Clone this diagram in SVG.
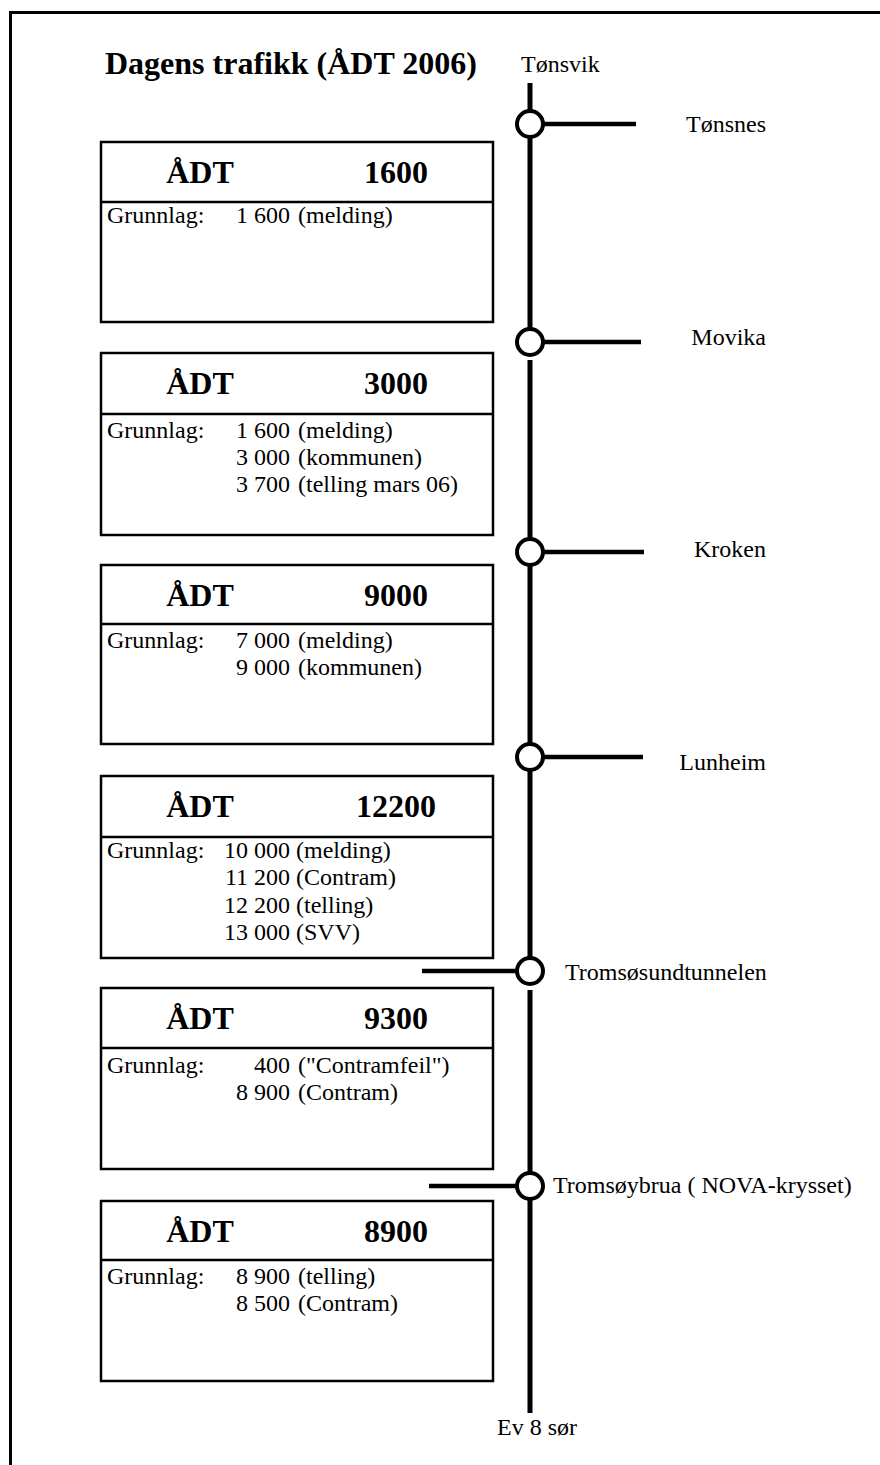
<svg xmlns="http://www.w3.org/2000/svg" width="880" height="1465" viewBox="0 0 880 1465">
<style>
  text { font-family: "Liberation Serif", "Times New Roman", serif; fill: #000; }
  .title { font-size: 32px; font-weight: bold; }
  .hdr { font-size: 32px; font-weight: bold; text-anchor: middle; }
  .t { font-size: 24px; }
  .n { font-size: 24px; text-anchor: end; }
  .lbl { font-size: 24px; }
  .lblr { font-size: 24px; text-anchor: end; }
  .box { fill: #fff; stroke: #000; stroke-width: 2.5; }
  .div { stroke: #000; stroke-width: 2.5; }
  .road { stroke: #000; stroke-width: 5; fill: none; }
  .branch { stroke: #000; stroke-width: 4.5; fill: none; }
  .jn { fill: #fff; stroke: #000; stroke-width: 4; }
</style>
<rect x="0" y="0" width="880" height="1465" fill="#fff"/>
<path d="M10.5 1466 V12.5 H881" fill="none" stroke="#000" stroke-width="3"/>

<text class="title" x="105" y="74">Dagens trafikk (ÅDT 2006)</text>

<g id="connectors">
  <line class="road" x1="530" y1="83" x2="530" y2="124"/>
  <line class="road" x1="530" y1="124" x2="530" y2="342"/>
  <line class="road" x1="530" y1="360" x2="530" y2="552"/>
  <line class="road" x1="530" y1="552" x2="530" y2="757"/>
  <line class="road" x1="530" y1="757" x2="530" y2="971"/>
  <line class="road" x1="530" y1="990" x2="530" y2="1186"/>
  <line class="road" x1="530" y1="1186" x2="530" y2="1413"/>
  <line class="branch" x1="540" y1="124" x2="636" y2="124"/>
  <line class="branch" x1="540" y1="342" x2="641" y2="342"/>
  <line class="branch" x1="540" y1="552" x2="644" y2="552"/>
  <line class="branch" x1="540" y1="757" x2="643" y2="757"/>
  <line class="branch" x1="422" y1="971" x2="520" y2="971"/>
  <line class="branch" x1="429" y1="1186" x2="520" y2="1186"/>
</g>

<g id="junction-tonsvik"><text class="lbl" x="521" y="72">Tønsvik</text></g>
<g id="junction-tonsnes"><circle class="jn" cx="530" cy="124" r="13"/><text class="lblr" x="766" y="132">Tønsnes</text></g>
<g id="junction-movika"><circle class="jn" cx="530" cy="342" r="13"/><text class="lblr" x="766" y="345">Movika</text></g>
<g id="junction-kroken"><circle class="jn" cx="530" cy="552" r="13"/><text class="lblr" x="766" y="557">Kroken</text></g>
<g id="junction-lunheim"><circle class="jn" cx="530" cy="757" r="13"/><text class="lblr" x="766" y="770">Lunheim</text></g>
<g id="junction-tromsosund"><circle class="jn" cx="530" cy="971" r="13"/><text class="lbl" x="565" y="980">Tromsøsundtunnelen</text></g>
<g id="junction-tromsoybrua"><circle class="jn" cx="530" cy="1186" r="13"/><text class="lbl" x="553" y="1193">Tromsøybrua ( NOVA-krysset)</text></g>
<g id="end-ev8"><text class="lbl" x="497" y="1435">Ev 8 sør</text></g>

<g id="box1">
  <rect class="box" x="101" y="142" width="392" height="180"/>
  <line class="div" x1="101" y1="202" x2="493" y2="202"/>
  <text class="hdr" x="200" y="183">ÅDT</text>
  <text class="hdr" x="396" y="183">1600</text>
  <text class="t" x="107" y="223">Grunnlag:</text>
  <text class="n" x="290" y="223">1 600</text><text class="t" x="298" y="223">(melding)</text>
</g>

<g id="box2">
  <rect class="box" x="101" y="353" width="392" height="182"/>
  <line class="div" x1="101" y1="414" x2="493" y2="414"/>
  <text class="hdr" x="200" y="394">ÅDT</text>
  <text class="hdr" x="396" y="394">3000</text>
  <text class="t" x="107" y="438">Grunnlag:</text>
  <text class="n" x="290" y="438">1 600</text><text class="t" x="298" y="438">(melding)</text>
  <text class="n" x="290" y="465">3 000</text><text class="t" x="298" y="465">(kommunen)</text>
  <text class="n" x="290" y="492">3 700</text><text class="t" x="298" y="492">(telling mars 06)</text>
</g>

<g id="box3">
  <rect class="box" x="101" y="565" width="392" height="179"/>
  <line class="div" x1="101" y1="624" x2="493" y2="624"/>
  <text class="hdr" x="200" y="606">ÅDT</text>
  <text class="hdr" x="396" y="606">9000</text>
  <text class="t" x="107" y="648">Grunnlag:</text>
  <text class="n" x="290" y="648">7 000</text><text class="t" x="298" y="648">(melding)</text>
  <text class="n" x="290" y="675">9 000</text><text class="t" x="298" y="675">(kommunen)</text>
</g>

<g id="box4">
  <rect class="box" x="101" y="776" width="392" height="182"/>
  <line class="div" x1="101" y1="837" x2="493" y2="837"/>
  <text class="hdr" x="200" y="817">ÅDT</text>
  <text class="hdr" x="396" y="817">12200</text>
  <text class="t" x="107" y="858">Grunnlag:</text>
  <text class="n" x="290" y="858">10 000</text><text class="t" x="296" y="858">(melding)</text>
  <text class="n" x="290" y="885">11 200</text><text class="t" x="296" y="885">(Contram)</text>
  <text class="n" x="290" y="913">12 200</text><text class="t" x="296" y="913">(telling)</text>
  <text class="n" x="290" y="940">13 000</text><text class="t" x="296" y="940">(SVV)</text>
</g>

<g id="box5">
  <rect class="box" x="101" y="988" width="392" height="181"/>
  <line class="div" x1="101" y1="1048" x2="493" y2="1048"/>
  <text class="hdr" x="200" y="1029">ÅDT</text>
  <text class="hdr" x="396" y="1029">9300</text>
  <text class="t" x="107" y="1073">Grunnlag:</text>
  <text class="n" x="290" y="1073">400</text><text class="t" x="298" y="1073">("Contramfeil")</text>
  <text class="n" x="290" y="1100">8 900</text><text class="t" x="298" y="1100">(Contram)</text>
</g>

<g id="box6">
  <rect class="box" x="101" y="1201" width="392" height="180"/>
  <line class="div" x1="101" y1="1260" x2="493" y2="1260"/>
  <text class="hdr" x="200" y="1242">ÅDT</text>
  <text class="hdr" x="396" y="1242">8900</text>
  <text class="t" x="107" y="1284">Grunnlag:</text>
  <text class="n" x="290" y="1284">8 900</text><text class="t" x="298" y="1284">(telling)</text>
  <text class="n" x="290" y="1311">8 500</text><text class="t" x="298" y="1311">(Contram)</text>
</g>
</svg>
